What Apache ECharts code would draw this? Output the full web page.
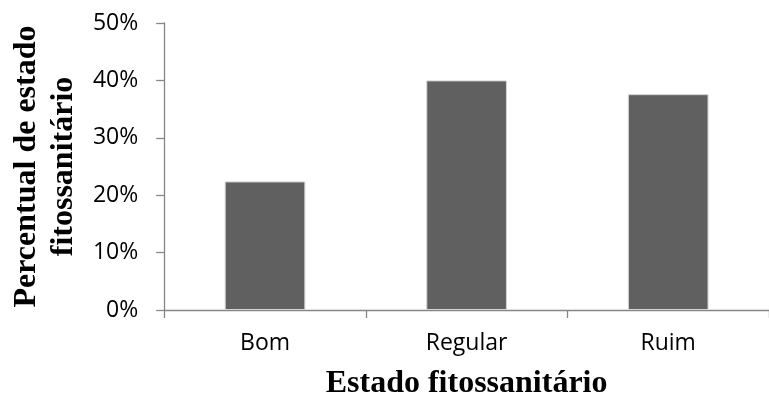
<!DOCTYPE html>
<html>
<head>
<meta charset="utf-8">
<script src="https://cdn.jsdelivr.net/npm/echarts@6/dist/echarts.min.js"></script>
<style>
html,body{margin:0;padding:0;background:#fff;}
#chart{width:769px;height:405px;}
</style>
</head>
<body>
<div id="chart"></div>
<script>
const categories = ['Bom', 'Regular', 'Ruim'];
const percentValues = [22.4, 40.0, 37.6];
const yTicks = [0, 10, 20, 30, 40, 50];
const xTitle = 'Estado fitossanitário';
const yTitle = 'Percentual de estado\nfitossanitário';

const chart = echarts.init(document.getElementById('chart'), null, {renderer: 'canvas'});
const axisColor = '#868686';
chart.setOption({
  animation: false,
  backgroundColor: '#ffffff',
  grid: {left: 159, top: 23, width: 618, height: 292, containLabel: false},
  xAxis: {
    type: 'category',
    data: categories,
    boundaryGap: true,
    axisLine: {lineStyle: {color: axisColor, width: 1.3}},
    axisTick: {show: true, length: 8, alignWithLabel: false, lineStyle: {color: axisColor, width: 1.3}},
    axisLabel: {margin: 22, color: '#000', fontFamily: 'Open Sans', fontSize: 23},
    name: xTitle,
    nameLocation: 'middle',
    nameGap: 58,
    nameTextStyle: {fontFamily: 'Liberation Serif', fontWeight: 'bold', fontSize: 32, color: '#000'}
  },
  yAxis: {
    type: 'value',
    min: yTicks[0],
    max: yTicks[yTicks.length - 1],
    interval: 10,
    splitLine: {show: false},
    axisLine: {show: true, lineStyle: {color: axisColor, width: 1.3}},
    axisTick: {show: true, length: 8, lineStyle: {color: axisColor, width: 1.3}},
    axisLabel: {margin: 26, color: '#000', fontFamily: 'Open Sans', fontSize: 23, formatter: '{value}%'},
    name: yTitle,
    nameLocation: 'middle',
    nameRotate: 90,
    nameGap: 82,
    nameTextStyle: {fontFamily: 'Liberation Serif', fontWeight: 'bold', fontSize: 32, color: '#000', lineHeight: 37, align: 'center'}
  },
  series: [{
    type: 'bar',
    data: percentValues,
    barCategoryGap: '60%',
    itemStyle: {color: '#606060', borderColor: '#d4d4d4', borderWidth: 1}
  }]
});
</script>
</body>
</html>
